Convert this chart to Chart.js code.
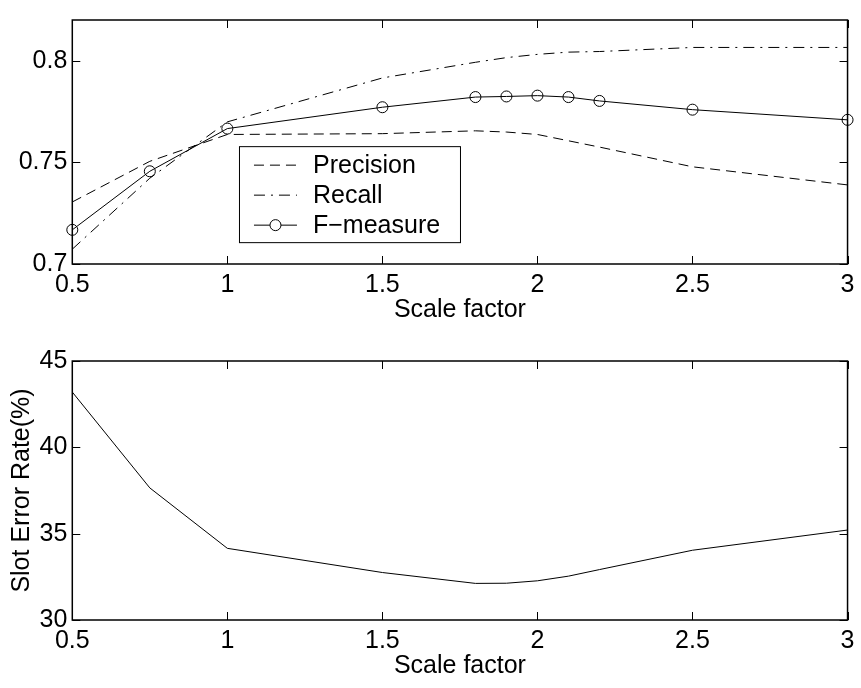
<!DOCTYPE html>
<html>
<head>
<meta charset="utf-8">
<script src="https://cdn.jsdelivr.net/npm/chart.js@4.4.1/dist/chart.umd.min.js"></script>
<style>
  html, body { margin: 0; padding: 0; background: #fff; }
  #wrap { position: relative; width: 861px; height: 688px; }
  canvas { position: absolute; left: 0; }
</style>
</head>
<body>
<div id="wrap">
  <canvas id="top-chart" width="861" height="330" style="top:0"></canvas>
  <canvas id="bottom-chart" width="861" height="348" style="top:340px"></canvas>
</div>
<script>
// データ
const scaleFactors = [0.5, 0.75, 1, 1.5, 1.8, 1.9, 2, 2.1, 2.2, 2.5, 3];
const precision = [0.7305, 0.7505, 0.7637, 0.7641, 0.7655, 0.7649, 0.7637, 0.7606, 0.7575, 0.7478, 0.7389];
const recall = [0.7073, 0.7422, 0.7699, 0.7915, 0.7992, 0.8015, 0.8031, 0.8042, 0.8045, 0.8065, 0.8065];
const fMeasure = [0.7168, 0.7456, 0.7666, 0.7771, 0.7821, 0.7824, 0.7828, 0.7821, 0.7802, 0.7759, 0.7709];
const slotErrorRate = [43.2, 37.65, 34.15, 32.75, 32.12, 32.13, 32.27, 32.54, 32.92, 34.04, 35.21];

const xTicks = [0.5, 1, 1.5, 2, 2.5, 3];
const yTicksTop = [0.7, 0.75, 0.8];
const yTicksBottom = [30, 35, 40, 45];

const FONT = { family: '"Liberation Sans", Arial, Helvetica, sans-serif', size: 25, lineHeight: 1.2 };

function pts(ys) {
  return scaleFactors.map((x, i) => ({ x: x, y: ys[i] }));
}

// 枠と内向きの目盛り、凡例
const framePlugin = {
  id: 'frame',
  afterDatasetsDraw(chart, args, opts) {
    const ctx = chart.ctx;
    const a = chart.chartArea;
    const xs = chart.scales.x, ys = chart.scales.y;
    ctx.save();
    ctx.strokeStyle = '#000';
    ctx.lineWidth = 1;
    ctx.beginPath();
    xTicks.forEach(v => {
      const px = Math.round(xs.getPixelForValue(v)) + 0.5;
      ctx.moveTo(px, a.bottom); ctx.lineTo(px, a.bottom - 8);
      ctx.moveTo(px, a.top); ctx.lineTo(px, a.top + 8);
    });
    opts.yTicks.forEach(v => {
      const py = Math.round(ys.getPixelForValue(v)) + 0.5;
      ctx.moveTo(a.left, py); ctx.lineTo(a.left + 8, py);
      ctx.moveTo(a.right, py); ctx.lineTo(a.right - 8, py);
    });
    ctx.stroke();
    ctx.lineWidth = 1.5;
    ctx.strokeRect(a.left, a.top, a.right - a.left, a.bottom - a.top);

    if (opts.legend) {
      const w = a.right - a.left, h = a.bottom - a.top;
      const lx = a.left + w * 0.215, ly = a.top + h * 0.517;
      const bw = 221, bh = 96;
      ctx.fillStyle = '#fff';
      ctx.fillRect(lx, ly, bw, bh);
      ctx.lineWidth = 1;
      ctx.strokeRect(lx + 0.5, ly + 0.5, bw, bh);
      ctx.font = FONT.size + 'px ' + FONT.family;
      ctx.textBaseline = 'middle';
      ctx.fillStyle = '#000';
      chart.data.datasets.forEach((ds, i) => {
        const cy = ly + 19 + i * 30;
        ctx.setLineDash(ds.borderDash || []);
        ctx.beginPath();
        ctx.moveTo(lx + 15, cy); ctx.lineTo(lx + 58, cy);
        ctx.stroke();
        ctx.setLineDash([]);
        if (ds.pointRadius > 0) {
          ctx.beginPath();
          ctx.arc(lx + 36.5, cy, ds.pointRadius, 0, Math.PI * 2);
          ctx.fillStyle = '#fff';
          ctx.fill();
          ctx.stroke();
          ctx.fillStyle = '#000';
        }
        ctx.fillText(ds.label, lx + 74, cy + 1);
      });
    }
    ctx.restore();
  }
};

function xScale(title) {
  return {
    type: 'linear', min: 0.5, max: 3,
    afterBuildTicks: s => { s.ticks = xTicks.map(v => ({ value: v })); },
    afterFit: s => { s.height = 61.5; },
    grid: { display: false, drawTicks: false },
    border: { display: false },
    ticks: { font: FONT, color: '#000', padding: 6.5, maxRotation: 0, autoSkip: false, callback: v => String(v) },
    title: { display: true, text: title, font: FONT, color: '#000', padding: 0 }
  };
}

function yScale(min, max, tickList, title) {
  return {
    type: 'linear', min: min, max: max,
    afterBuildTicks: s => { s.ticks = tickList.map(v => ({ value: v })); },
    afterFit: s => { s.width = 72.3; },
    grid: { display: false, drawTicks: false },
    border: { display: false },
    ticks: { font: FONT, color: '#000', padding: 5, autoSkip: false, callback: v => String(v) },
    title: { display: !!title, text: title || '', font: FONT, color: '#000', padding: { top: 6.7, bottom: 0 } }
  };
}

new Chart(document.getElementById('top-chart').getContext('2d'), {
  type: 'line',
  data: {
    datasets: [{
      label: 'Precision',
      data: pts(precision),
      borderColor: '#000', borderWidth: 1, borderDash: [10, 6],
      pointRadius: 0
    }, {
      label: 'Recall',
      data: pts(recall),
      borderColor: '#000', borderWidth: 1, borderDash: [11, 6, 2, 6],
      pointRadius: 0
    }, {
      label: 'F\u2212measure',
      data: pts(fMeasure),
      borderColor: '#000', borderWidth: 1,
      pointRadius: 5.5, pointBorderWidth: 1,
      pointBorderColor: '#000', pointBackgroundColor: 'rgba(0,0,0,0)',
      clip: false
    }]
  },
  options: {
    responsive: false, animation: false, devicePixelRatio: 1,
    layout: { padding: { top: 5.7, right: 9.3, bottom: 4.5, left: 0 } },
    scales: { x: xScale('Scale factor'), y: yScale(0.7, 0.82, yTicksTop) },
    plugins: { legend: { display: false }, tooltip: { enabled: false }, frame: { yTicks: yTicksTop, legend: true } }
  },
  plugins: [framePlugin]
});

new Chart(document.getElementById('bottom-chart').getContext('2d'), {
  type: 'line',
  data: {
    datasets: [{
      label: 'Slot Error Rate',
      data: pts(slotErrorRate),
      borderColor: '#000', borderWidth: 1,
      pointRadius: 0
    }]
  },
  options: {
    responsive: false, animation: false, devicePixelRatio: 1,
    layout: { padding: { top: 21, right: 9.3, bottom: 6.5, left: 0 } },
    scales: { x: xScale('Scale factor'), y: yScale(30, 45, yTicksBottom, 'Slot Error Rate(%)') },
    plugins: { legend: { display: false }, tooltip: { enabled: false }, frame: { yTicks: yTicksBottom, legend: false } }
  },
  plugins: [framePlugin]
});
</script>
</body>
</html>
